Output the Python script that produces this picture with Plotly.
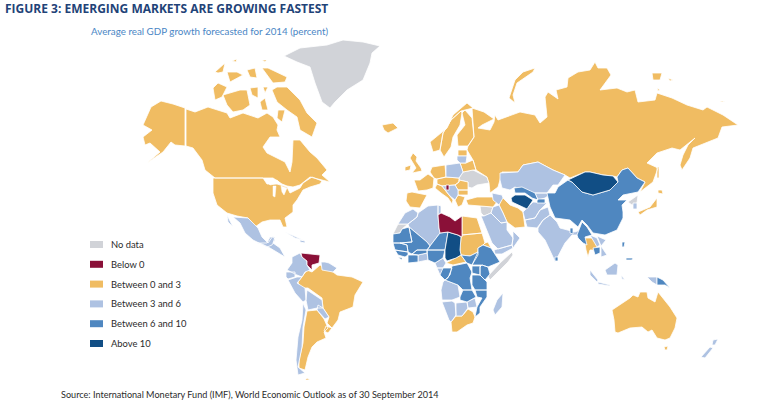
import plotly.graph_objects as go

categories = ["No data", "Below 0", "Between 0 and 3", "Between 3 and 6", "Between 6 and 10", "Above 10"]
colors = ["#d1d3d8", "#8a1038", "#f0bc62", "#aec2e2", "#4f87c0", "#114e85"]

greenland = [(284,56),(300,48),(327,45),(343,40),(363,42),(380,46),(372,53),(370,63),(363,80),(347,90),(335,102),(330,108),(322,102),(315,83),(310,67),(297,62)]
w_sahara = [(393,234),(398,224),(408,224),(402,229),(400,233)]
somalia = [(488,276),(500,263),(512,252),(513,255),(508,262),(498,272),(490,280)]
syria = [(480,206),(493,207),(491,213),(484,216),(481,213)]
ukraine = [(463,172),(473,170),(487,177),(489,183),(477,185),(472,188),(468,187),(468,182),(459,180),(459,178)]
n_korea = [(628,202),(638,195),(637,203),(632,205)]

libya = [(438,215),(441,213),(450,217),(455,221),(462,216),(462,237),(458,235),(448,232),(440,233),(439,228)]
venezuela = [(301,253),(320,255),(319,263),(312,265),(312,270),(307,265),(307,261),(302,257)]
bosnia = [(446,185),(449,185),(449,190),(446,190)]

alaska = [(143,125),(151,107),(161,101),(173,104),(185,108),(185,146),(175,145),(171,142),(163,152),(147,163),(160,152),(150,143),(145,145),(143,137),(152,130)]
canada = [(186,109),(195,112),(208,107),(227,113),(230,118),(243,113),(258,118),(267,113),(273,117),(278,125),(277,130),(280,137),(270,137),(263,147),(267,153),(277,158),(285,162),(290,172),(292,162),(293,140),(300,140),(310,152),(317,158),(327,170),(322,175),(330,182),(322,180),(310,177),(300,185),(293,187),(287,186),(282,184),(273,178),(263,178),(215,178),(205,170),(202,160),(193,148),(186,146)]
victoria = [(223,95),(240,90),(247,90),(250,105),(243,110),(233,112),(227,105)]
banks = [(213,88),(218,83),(227,87),(222,97),(215,100)]
baffin = [(272,90),(277,87),(287,87),(300,100),(307,113),(317,123),(312,137),(300,130),(297,117),(287,110),(277,102)]
arctic_a = [(250,88),(258,87),(258,98),(252,95)]
arctic_b = [(263,87),(268,87),(265,93)]
arctic_c = [(260,102),(265,98),(268,110),(262,110)]
southampton = [(278,110),(285,110),(282,122),(277,118)]
ellesmere = [(262,68),(268,68),(287,77),(285,82),(273,83),(267,75)]
arctic_d = [(215,72),(225,63),(223,72),(218,73)]
arctic_e = [(227,72),(237,72),(243,75),(230,82)]
arctic_f = [(247,70),(255,68),(257,78),(250,77)]
arctic_g = [(232,61),(237,59),(236,62)]
arctic_h = [(262,60),(267,60),(265,62)]
usa = [(213,178),(263,178),(267,184),(277,184),(287,187),(290,193),(300,188),(303,183),(312,177),(322,181),(320,184),(310,187),(303,190),(297,200),(293,205),(293,212),(285,218),(287,227),(283,227),(280,220),(270,220),(262,222),(255,227),(248,218),(237,216),(227,213),(217,205),(213,193)]
brazil = [(298,282),(307,270),(312,272),(320,265),(333,272),(337,275),(352,277),(363,282),(355,295),(353,307),(340,312),(338,320),(332,328),(327,323),(329,317),(323,308),(322,298),(308,288),(300,288)]
uruguay = [(326,326),(332,328),(328,333),(324,331)]
argentina = [(307,311),(317,310),(324,319),(328,328),(324,332),(326,338),(317,342),(312,347),(308,357),(305,370),(299,368),(299,360),(303,343),(304,327)]
tierra = [(307,378),(310,380),(305,380)]
iceland = [(382,125),(393,123),(398,128),(388,133),(384,130)]
norway = [(430,142),(447,128),(453,115),(467,103),(473,108),(461,111),(451,120),(443,133),(440,150),(433,152)]
sweden = [(443,133),(451,120),(461,111),(462,113),(460,125),(453,137),(451,147),(444,157),(440,150)]
finland = [(462,113),(465,110),(472,118),(474,137),(468,146),(458,146),(457,135),(465,125)]
uk = [(413,153),(417,157),(416,161),(421,168),(422,171),(412,173),(416,168),(412,162),(410,158)]
ireland = [(405,167),(411,165),(410,170),(405,171)]
france = [(414,180),(420,180),(428,174),(434,178),(433,188),(427,190),(418,191)]
germany = [(432,167),(445,165),(446,177),(437,179),(434,178),(430,172)]
spain = [(407,193),(412,192),(427,195),(424,201),(420,208),(410,207),(406,201)]
italy = [(437,184),(442,186),(445,190),(453,200),(452,204),(448,198),(441,193),(435,188)]
estonia = [(458,150),(467,150),(467,156),(458,156)]
belarus = [(460,163),(466,163),(473,160),(476,170),(473,170),(463,172)]
romania = [(459,180),(468,182),(468,190),(458,190),(455,185),(459,182)]
austria = [(437,179),(446,177),(459,178),(459,182),(455,185),(442,186),(437,184)]
bulgaria = [(458,190),(468,190),(468,195),(458,195)]
greece = [(455,200),(458,195),(465,197),(462,205),(458,207)]
turkey = [(466,200),(477,197),(493,197),(497,202),(493,207),(480,206),(468,205)]
russia = [(472,108),(484,112),(494,119),(482,125),(478,128),(490,130),(494,122),(495,115),(498,120),(520,112),(535,115),(540,123),(547,117),(545,97),(548,92),(558,99),(556,90),(567,87),(568,78),(578,72),(590,70),(595,62),(598,68),(607,68),(611,75),(600,90),(617,88),(627,92),(635,90),(638,102),(655,100),(657,93),(672,98),(687,105),(703,110),(707,107),(723,115),(738,125),(722,127),(718,138),(693,148),(690,158),(682,170),(680,165),(683,155),(688,145),(695,138),(680,150),(672,148),(657,153),(647,163),(658,168),(653,182),(640,192),(645,182),(637,178),(628,168),(622,170),(617,177),(613,176),(603,175),(590,172),(585,172),(570,178),(565,175),(553,170),(538,162),(523,165),(518,172),(502,172),(500,180),(498,187),(490,193),(489,183),(487,177),(476,170),(473,160),(467,150),(468,146),(474,137)]
novaya = [(535,68),(523,72),(515,80),(509,98),(515,103),(513,95),(517,83),(533,72)]
severnaya = [(652,73),(662,73),(660,80),(653,80)]
russia_isl_a = [(668,78),(673,80),(670,81)]
russia_isl_b = [(720,101),(725,101),(722,102)]
russia_isl_c = [(657,88),(660,90),(658,91)]
sakhalin = [(657,167),(659,167),(659,178),(657,178)]
hokkaido = [(658,190),(662,190),(663,194),(658,193)]
honshu = [(657,198),(657,207),(647,210),(640,215),(638,212),(650,207)]
iran = [(499,205),(502,197),(510,205),(518,208),(523,212),(525,227),(515,228),(507,222),(503,213)]
thailand = [(584,238),(592,238),(598,246),(596,250),(590,250),(588,257),(586,250)]
egypt = [(462,216),(477,218),(482,233),(462,235)]
sudan = [(462,235),(482,233),(485,243),(483,245),(478,248),(478,252),(470,256),(461,255),(460,250),(461,237)]
car = [(446,263),(461,255),(466,262),(453,265)]
eritrea = [(485,243),(488,242),(491,248),(483,245)]
south_africa = [(451,322),(456,316),(462,316),(468,309),(473,312),(475,317),(473,323),(467,325),(457,332),(452,332)]
australia = [(612,310),(630,298),(633,295),(638,297),(640,292),(647,292),(648,298),(655,302),(658,292),(663,298),(670,307),(677,318),(675,328),(670,338),(665,340),(657,338),(652,330),(648,332),(642,327),(630,328),(618,333),(615,332),(614,320)]
tasmania = [(664,347),(668,346),(667,350),(665,350)]

mexico = [(233,217),(248,218),(258,228),(262,237),(268,243),(273,236),(275,240),(272,245),(267,247),(253,240),(245,233),(240,223)]
baja = [(227,215),(233,227),(238,232),(235,229),(228,222)]
central_am = [(257,243),(267,243),(270,237),(275,237),(273,243),(280,248),(285,257),(277,252),(270,248),(262,244)]
cuba = [(285,232),(295,236),(303,240),(295,238)]
hispaniola = [(300,240),(305,241),(305,243),(300,242)]
colombia = [(300,253),(302,257),(307,261),(307,265),(310,270),(305,272),(302,277),(297,275),(287,270),(292,263),(292,257)]
guianas = [(321,262),(325,262),(329,263),(337,268),(333,272),(322,270)]
ecuador = [(286,272),(295,272),(295,277),(288,279),(286,277)]
peru = [(288,280),(297,277),(302,277),(297,283),(305,288),(306,300),(303,302),(295,293)]
bolivia = [(307,290),(322,300),(323,308),(317,308),(308,310),(306,300)]
paraguay = [(318,305),(323,308),(329,317),(325,319),(317,310)]
chile = [(303,303),(306,310),(303,327),(302,347),(298,367),(305,373),(298,375),(296,360),(298,337),(302,320)]
poland = [(446,165),(460,163),(463,172),(459,178),(446,177)]
baltics = [(457,156),(467,156),(466,163),(460,163),(457,160)]
balkans = [(442,186),(455,185),(458,190),(458,195),(455,200),(450,196)]
caucasus = [(492,193),(502,195),(503,198),(499,205),(493,200)]
kazakhstan = [(500,173),(518,172),(523,165),(538,162),(553,170),(565,175),(558,185),(553,185),(547,193),(533,193),(525,192),(515,187),(510,190),(502,188),(500,180)]
kyrgyzstan = [(535,193),(552,193),(545,198),(538,200)]
afghanistan = [(523,212),(533,202),(547,203),(540,210),(535,218),(525,220)]
pakistan = [(525,220),(535,218),(540,210),(548,207),(550,215),(543,220),(537,228),(527,227)]
india = [(543,220),(550,215),(557,222),(560,228),(575,232),(585,228),(582,235),(572,235),(565,243),(555,262),(553,257),(545,240),(538,232),(538,228)]
s_korea = [(633,203),(637,203),(637,209),(633,209)]
laos = [(590,235),(597,238),(600,245),(597,247)]
vietnam = [(597,236),(606,240),(601,246),(607,255),(601,257),(601,246)]
sumatra = [(590,270),(598,280),(597,282),(590,275)]
java = [(598,282),(610,285),(610,286),(598,284)]
borneo = [(605,270),(615,263),(618,265),(617,275),(607,275)]
sulawesi = [(621,275),(625,280),(622,279)]
west_papua = [(647,277),(657,277),(657,285),(652,282)]
nz_south = [(701,357),(710,347),(713,348),(705,358)]
nz_north = [(713,340),(718,339),(715,345),(712,345)]
morocco = [(405,213),(413,209),(418,213),(417,217),(408,224),(398,224)]
algeria = [(408,224),(417,217),(418,213),(428,206),(438,205),(438,215),(439,228),(440,233),(430,246),(427,242),(409,227)]
tunisia = [(438,205),(441,206),(441,213),(438,215)]
ghana_togo = [(418,255),(427,253),(428,260),(418,262)]
cameroon = [(435,263),(443,258),(446,263),(443,268),(437,268)]
gabon = [(437,268),(443,268),(442,275),(440,275)]
angola = [(443,282),(445,280),(458,285),(460,297),(452,300),(442,300),(441,290)]
zimbabwe = [(467,302),(475,298),(477,307),(468,308)]
namibia = [(442,302),(452,301),(455,303),(456,315),(451,322),(449,320)]
botswana = [(456,303),(467,302),(468,308),(462,316),(456,316)]
madagascar = [(497,300),(503,293),(502,307),(495,315),(493,310)]
saudi = [(481,216),(484,216),(491,213),(495,217),(501,223),(507,222),(507,230),(513,238),(512,245),(498,249),(492,243)]
iraq = [(493,207),(499,205),(503,213),(507,222),(501,223),(495,217),(491,213)]
oman = [(513,231),(520,238),(513,248),(512,245),(513,238)]
yemen = [(494,250),(498,249),(512,245),(513,248),(502,254),(495,254)]

uzbekistan = [(514,188),(522,187),(535,193),(538,200),(532,198),(525,193),(515,193)]
tajikistan = [(537,199),(545,199),(545,203),(537,203)]
china = [(645,182),(637,178),(628,168),(622,170),(617,177),(618,182),(610,190),(593,195),(582,192),(572,182),(568,180),(558,187),(555,193),(547,193),(550,207),(555,218),(570,220),(578,227),(582,220),(587,225),(593,233),(605,235),(617,230),(623,218),(623,212),(622,205),(627,200),(618,200),(623,195),(638,192)]
myanmar = [(577,235),(582,222),(587,227),(592,235),(585,237),(587,245),(583,243),(578,238)]
bangladesh = [(570,228),(573,228),(573,234),(570,233)]
cambodia = [(593,248),(600,247),(600,253),(595,255)]
sri_lanka = [(555,257),(558,257),(558,261),(555,261)]
luzon = [(622,242),(625,242),(624,247),(622,247)]
mindanao = [(626,258),(633,258),(632,260),(626,260)]
png = [(657,277),(663,280),(670,288),(665,285),(657,285)]
niger = [(430,246),(440,233),(448,232),(445,250),(427,250)]
mali = [(409,227),(427,242),(430,246),(427,250),(417,250),(412,254),(408,252),(407,245),(400,243),(412,242)]
mauritania = [(393,243),(393,234),(400,233),(402,229),(409,227),(412,242),(400,243)]
senegal = [(393,243),(400,243),(407,245),(408,252),(395,250)]
burkina = [(417,250),(427,250),(427,253),(418,255),(412,254)]
nigeria = [(427,250),(445,250),(443,258),(435,263),(428,260),(427,253)]
ivory_coast = [(408,255),(418,255),(418,262),(408,263)]
guinea = [(395,250),(408,252),(408,255),(405,257),(398,255)]
congo = [(440,275),(443,268),(447,268),(452,268),(448,278),(445,280)]
drc = [(452,266),(467,263),(472,272),(470,278),(472,290),(463,290),(458,285),(445,280),(450,275)]
s_sudan = [(466,262),(461,255),(470,256),(478,252),(478,255),(472,265),(467,263)]
ethiopia = [(478,252),(478,248),(483,245),(491,248),(500,262),(488,267),(482,265),(472,265)]
kenya = [(480,267),(482,265),(488,267),(490,274),(485,280),(480,275)]
uganda = [(472,266),(480,266),(480,275),(472,273)]
tanzania = [(472,275),(480,275),(487,282),(487,290),(475,290),(472,285)]
zambia = [(460,297),(463,290),(472,290),(476,297),(467,302),(460,300)]
mozambique = [(475,290),(487,290),(487,297),(480,307),(480,313),(475,317),(477,307),(482,298),(477,297)]

mongolia = [(568,180),(585,172),(590,172),(603,175),(613,176),(618,182),(610,190),(593,195),(582,192),(572,182)]
turkmenistan = [(511,198),(515,195),(525,195),(533,200),(527,209),(518,205),(512,202)]
chad = [(448,232),(458,235),(461,237),(460,250),(461,255),(456,258),(447,261),(445,258),(445,250)]
liberia = [(398,257),(402,258),(402,260)]

# white lake cut-outs between Canada and the USA
lakes = [(273,186),(276,186),(275,197),(273,196)], [(281,186),(287,188),(284,195),(282,192)], [(267,182),(277,180),(280,183),(270,185)]

groups = [
    [greenland, w_sahara, somalia, syria, ukraine, n_korea],
    [libya, venezuela, bosnia],
    [alaska, canada, victoria, banks, baffin, arctic_a, arctic_b, arctic_c, southampton, ellesmere, arctic_d, arctic_e,
     arctic_f, arctic_g, arctic_h, usa, brazil, uruguay, argentina, tierra, iceland, norway, sweden, finland, uk, ireland,
     france, germany, spain, italy, estonia, belarus, romania, austria, bulgaria, greece, turkey, russia, novaya, severnaya,
     russia_isl_a, russia_isl_b, russia_isl_c, sakhalin, hokkaido, honshu, iran, thailand, egypt, sudan, car, eritrea,
     south_africa, australia, tasmania],
    [mexico, baja, central_am, cuba, hispaniola, colombia, guianas, ecuador, peru, bolivia, paraguay, chile, poland, baltics,
     balkans, caucasus, kazakhstan, kyrgyzstan, afghanistan, pakistan, india, s_korea, laos, vietnam, sumatra, java, borneo,
     sulawesi, west_papua, nz_south, nz_north, morocco, algeria, tunisia, ghana_togo, cameroon, gabon, angola, zimbabwe,
     namibia, botswana, madagascar, saudi, iraq, oman, yemen],
    [uzbekistan, tajikistan, china, myanmar, bangladesh, cambodia, sri_lanka, luzon, mindanao, png, niger, mali, mauritania,
     senegal, burkina, nigeria, ivory_coast, guinea, congo, drc, s_sudan, ethiopia, kenya, uganda, tanzania, zambia, mozambique],
    [mongolia, turkmenistan, chad, liberia],
]

fig = go.Figure()
# Below 0 goes last so the neighbours don't paint over Libya and Venezuela
for i in [0, 2, 3, 4, 5, 1]:
    xs, ys = [], []
    for outline in groups[i]:
        xs += [p[0] for p in outline] + [outline[0][0], None]
        ys += [p[1] for p in outline] + [outline[0][1], None]
    fig.add_trace(go.Scatter(x=xs, y=ys, name=categories[i], mode="lines", fill="toself", fillcolor=colors[i],
                             line=dict(color="white", width=0.8), showlegend=False, hoverinfo="name"))

for lake in lakes:
    fig.add_trace(go.Scatter(x=[p[0] for p in lake] + [lake[0][0]], y=[p[1] for p in lake] + [lake[0][1]], mode="lines",
                             fill="toself", fillcolor="white", line=dict(color="white", width=0.5), showlegend=False, hoverinfo="skip"))

# legend swatches and labels
for i, (name, color) in enumerate(zip(categories, colors)):
    y = 244.5 + i * 19.8
    fig.add_shape(type="rect", x0=90, x1=103, y0=y - 3.5, y1=y + 3.5, fillcolor=color, line_width=0)
    fig.add_annotation(x=109, y=y, text=name, showarrow=False, xanchor="left", font=dict(size=9.4, color="#2b2b2b", family="Lato"))

fig.add_annotation(x=3, y=8, text="<b>FIGURE 3: EMERGING MARKETS ARE GROWING FASTEST</b>", showarrow=False, xanchor="left",
                   font=dict(size=12, color="#1f4378", family="Open Sans"))
fig.add_annotation(x=89, y=31, text="Average real GDP growth forecasted for 2014 (percent)", showarrow=False, xanchor="left",
                   font=dict(size=9.8, color="#4a86c5", family="Lato"))
fig.add_annotation(x=59, y=394, text="Source: International Monetary Fund (IMF), World Economic Outlook as of 30 September 2014",
                   showarrow=False, xanchor="left", font=dict(size=9.1, color="#2b2b2b", family="Lato"))

fig.update_xaxes(range=[0, 762], visible=False, fixedrange=True)
fig.update_yaxes(range=[405, 0], visible=False, fixedrange=True)
fig.update_layout(width=762, height=405, margin=dict(l=0, r=0, t=0, b=0), paper_bgcolor="white", plot_bgcolor="white")
# page default margin would push the chart 8px in and cut the bottom text
fig.write_html("out.html", config={"displayModeBar": False}, post_script="document.body.style.margin='0';")
